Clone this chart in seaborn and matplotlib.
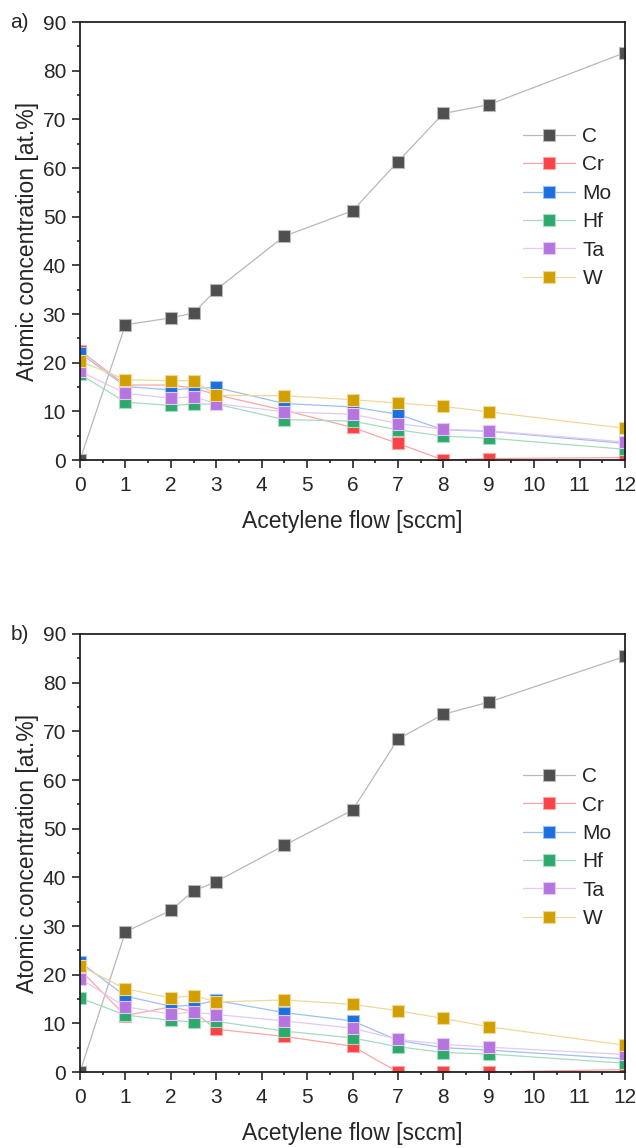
import matplotlib
matplotlib.use("Agg")
import matplotlib.pyplot as plt
import seaborn as sns
from matplotlib.ticker import MultipleLocator

# Acetylene flow values (sccm)
flow = [0, 1, 2, 2.5, 3, 4.5, 6, 7, 8, 9, 12]

elements = ["C", "Cr", "Mo", "Hf", "Ta", "W"]

# Panel a) atomic concentrations [at.%]
a_C = [0, 27.8, 29.2, 30.2, 35.0, 46.0, 51.2, 61.3, 71.2, 73.0, 83.7]
a_Cr = [22.5, 15.4, 15.4, 14.8, 13.4, 10.2, 6.7, 3.4, 0.0, 0.3, 0.5]
a_Mo = [22.0, 15.1, 14.4, 14.7, 14.9, 11.6, 10.9, 9.4, 6.2, 5.9, 3.4]
a_Hf = [17.6, 11.9, 11.2, 11.5, 11.5, 8.3, 8.0, 6.2, 4.9, 4.5, 2.2]
a_Ta = [18.2, 13.7, 12.7, 13.0, 11.6, 9.9, 9.4, 7.5, 6.3, 6.0, 3.7]
a_W = [20.3, 16.5, 16.3, 16.3, 13.3, 13.2, 12.4, 11.7, 11.0, 9.9, 6.5]

# Panel b) atomic concentrations [at.%]
b_C = [0, 28.8, 33.2, 37.2, 39.1, 46.6, 53.8, 68.4, 73.5, 76.0, 85.4]
b_Cr = [21.0, 11.6, 13.4, 12.4, 8.8, 7.3, 5.3, 0.0, 0.0, 0.0, 0.5]
b_Mo = [22.6, 15.6, 13.5, 13.7, 14.7, 12.2, 10.5, 6.5, 5.0, 4.5, 2.7]
b_Hf = [15.2, 11.7, 10.6, 10.3, 10.4, 8.4, 7.0, 5.2, 4.0, 3.7, 1.8]
b_Ta = [19.2, 13.4, 11.9, 12.3, 11.8, 10.5, 9.0, 6.7, 5.7, 5.1, 3.6]
b_W = [21.8, 17.1, 15.2, 15.7, 14.4, 14.8, 13.9, 12.6, 11.0, 9.3, 5.5]

colors = {
    "C": "#4f4f4f",
    "Cr": "#f94346",
    "Mo": "#1c6fdf",
    "Hf": "#2ea96c",
    "Ta": "#b574de",
    "W": "#d29f00",
}
line_colors = {
    "C": "#b8b8b8",
    "Cr": "#fda5a6",
    "Mo": "#9dc0f0",
    "Hf": "#a5dcc0",
    "Ta": "#e2caf3",
    "W": "#eed89a",
}

sns.set_style("ticks")
plt.rcParams["font.family"] = ["Liberation Sans", "DejaVu Sans"]
plt.rcParams["font.size"] = 15

TICK_FS = 15
LABEL_FS = 16.5
LEGEND_FS = 15


def plot_panel(ax, series, tag, legend_top):
    for name, values in zip(elements, series):
        sns.lineplot(
            x=flow,
            y=values,
            ax=ax,
            color=line_colors[name],
            linewidth=0.9,
            marker="s",
            markersize=8,
            markerfacecolor=colors[name],
            markeredgecolor=line_colors[name],
            markeredgewidth=0.8,
            label=name,
            sort=False,
        )

    ax.set_xlim(0, 12)
    ax.set_ylim(0, 90)
    ax.xaxis.set_major_locator(MultipleLocator(1))
    ax.xaxis.set_minor_locator(MultipleLocator(0.5))
    ax.yaxis.set_major_locator(MultipleLocator(10))
    ax.yaxis.set_minor_locator(MultipleLocator(5))
    ax.tick_params(which="major", direction="out", length=5.5, width=1.2,
                   labelsize=TICK_FS)
    ax.tick_params(axis="x", which="major", pad=6)
    ax.tick_params(axis="y", which="major", pad=4.5)
    ax.tick_params(which="minor", direction="out", length=2.5, width=1.2)
    for spine in ax.spines.values():
        spine.set_visible(True)
        spine.set_linewidth(1.3)
        spine.set_color("#222222")

    ax.set_xlabel("Acetylene flow [sccm]", fontsize=LABEL_FS, labelpad=10.5)
    ax.set_ylabel("Atomic concentration [at.%]", fontsize=LABEL_FS, labelpad=3)
    ax.text(-0.128, 1.0, tag, transform=ax.transAxes, ha="left", va="center",
            fontsize=TICK_FS)

    ax.legend(
        loc="upper left",
        bbox_to_anchor=(0.813, legend_top),
        frameon=False,
        handlelength=2.5,
        handletextpad=0.35,
        labelspacing=0.45,
        borderaxespad=0,
        borderpad=0,
        fontsize=LEGEND_FS,
    )


fig = plt.figure(figsize=(6.36, 11.48), dpi=100)
W, H = 636, 1148
ax_a = fig.add_axes([80 / W, 1 - 460 / H, 545 / W, 438 / H])
ax_b = fig.add_axes([80 / W, 1 - 1072 / H, 545 / W, 438 / H])

plot_panel(ax_a, [a_C, a_Cr, a_Mo, a_Hf, a_Ta, a_W], "a)", 0.76)
plot_panel(ax_b, [b_C, b_Cr, b_Mo, b_Hf, b_Ta, b_W], "b)", 0.696)

fig.savefig("out.png", dpi=100)
